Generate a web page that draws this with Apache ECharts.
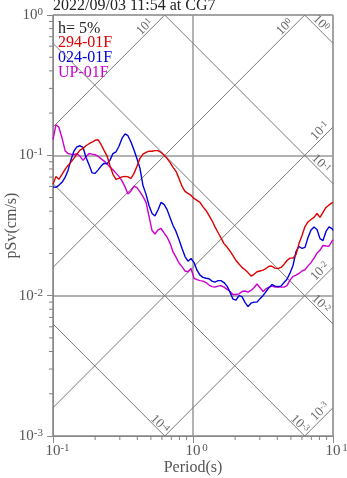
<!DOCTYPE html>
<html><head><meta charset="utf-8">
<script src="https://cdn.jsdelivr.net/npm/echarts@6/dist/echarts.min.js"></script>
<style>html,body{margin:0;padding:0;background:#fff}#c{width:347px;height:478px}</style>
</head><body><div id="c"></div>
<script>
const titleText = '2022/09/03 11:54 at CG7';
const dampingText = 'h= 5%';
const seriesNames = ['294-01F', '024-01F', 'UP-01F'];
const seriesColors = ['#dd0000', '#0000dd', '#cc00cc'];
const xName = 'Period(s)';
const yName = 'pSv(cm/s)';

const periods = [0.100,0.105,0.110,0.116,0.122,0.128,0.134,0.141,0.148,0.156,
0.164,0.172,0.181,0.190,0.200,0.210,0.220,0.231,0.243,0.255,
0.268,0.282,0.296,0.311,0.327,0.343,0.361,0.379,0.398,0.418,
0.439,0.462,0.485,0.510,0.535,0.562,0.591,0.621,0.652,0.685,
0.720,0.756,0.794,0.835,0.877,0.921,0.968,1.017,1.068,1.122,
1.179,1.239,1.301,1.367,1.436,1.509,1.585,1.665,1.750,1.838,
1.931,2.029,2.131,2.239,2.352,2.471,2.596,2.727,2.865,3.010,
3.162,3.322,3.490,3.667,3.853,4.048,4.252,4.467,4.693,4.931,
5.180,5.442,5.717,6.007,6.310,6.629,6.965,7.317,7.687,8.076,
8.483,8.913,9.363,9.837,10.0];

const sv294 = [0.0621,0.0708,0.0674,0.0732,0.0794,0.0848,0.0891,0.0952,0.102,0.109,
0.112,0.117,0.121,0.124,0.128,0.129,0.120,0.109,0.0992,0.0848,
0.0732,0.0674,0.0685,0.0702,0.0708,0.0702,0.0685,0.0744,0.0835,0.0952,
0.102,0.105,0.107,0.107,0.108,0.108,0.105,0.100,0.0952,0.0891,
0.0821,0.0769,0.0685,0.0601,0.0553,0.0535,0.0518,0.0493,0.0477,0.0462,
0.0429,0.0405,0.0373,0.0343,0.0309,0.0282,0.0258,0.0235,0.0222,0.0208,
0.0193,0.0178,0.0168,0.0159,0.0153,0.0146,0.0138,0.0142,0.0148,0.0150,
0.0152,0.0156,0.0162,0.0162,0.0157,0.0156,0.0159,0.0167,0.0178,0.0185,
0.0185,0.0196,0.0235,0.0268,0.0311,0.0335,0.0349,0.0361,0.0385,0.0361,
0.0392,0.0425,0.0443,0.0458,0.0462];

const sv024 = [0.0596,0.0591,0.0611,0.0642,0.0696,0.0781,0.0921,0.107,0.115,0.117,
0.114,0.0968,0.0855,0.0750,0.0744,0.0788,0.0835,0.0877,0.0870,0.0921,
0.103,0.106,0.116,0.132,0.142,0.138,0.124,0.109,0.0944,0.0808,
0.0611,0.0527,0.0439,0.0385,0.0370,0.0408,0.0462,0.0447,0.0412,0.0361,
0.0316,0.0287,0.0251,0.0217,0.0190,0.0176,0.0184,0.0172,0.0152,0.0140,
0.0135,0.0133,0.0132,0.0127,0.0125,0.0128,0.0128,0.0124,0.0117,0.0106,
0.00944,0.00929,0.0100,0.00984,0.00896,0.00835,0.00884,0.00899,0.00899,0.00952,
0.0100,0.0107,0.0114,0.0120,0.0117,0.0116,0.0117,0.0124,0.0131,0.0145,
0.0164,0.0206,0.0224,0.0217,0.0221,0.0260,0.0294,0.0309,0.0296,0.0255,
0.0247,0.0287,0.0309,0.0301,0.0291];

const svUP = [0.130,0.165,0.159,0.133,0.108,0.103,0.102,0.101,0.103,0.0984,
0.0921,0.0976,0.103,0.102,0.101,0.0984,0.0947,0.0913,0.0870,0.0825,
0.0788,0.0747,0.0708,0.0658,0.0596,0.0531,0.0558,0.0604,0.0588,0.0549,
0.0510,0.0462,0.0367,0.0291,0.0275,0.0294,0.0301,0.0280,0.0262,0.0237,
0.0205,0.0188,0.0171,0.0161,0.0150,0.0148,0.0156,0.0133,0.0130,0.0128,
0.0127,0.0124,0.0119,0.0116,0.0115,0.0117,0.0118,0.0115,0.0111,0.0107,
0.0102,0.0102,0.0103,0.0107,0.0108,0.0106,0.0109,0.0114,0.0121,0.0114,
0.0107,0.0112,0.0115,0.0117,0.0115,0.0115,0.0115,0.0115,0.0118,0.0129,
0.0137,0.0140,0.0144,0.0150,0.0153,0.0163,0.0172,0.0185,0.0201,0.0211,
0.0228,0.0226,0.0225,0.0245,0.0251];

const xRange = [0.1, 10];
const yRange = [0.001, 1];
const xDecades = [-1, 0];        // minor ticks per decade on period axis
const yDecades = [-3, -2, -1];   // minor ticks per decade on pSv axis
const minorMantissas = [2, 3, 4, 5, 6, 7, 8, 9];
const dispExps = [-4, -3, -2, -1, 0];   // constant displacement lines (cm)
const accExps = [-3, -2, -1, 0, 1];     // constant acceleration lines

const SERIF = '"Liberation Serif","DejaVu Serif",serif';
const TWO_PI = 2 * Math.PI;

// diagonal line segments in data space: [T1, SV1, T2, SV2, isAcc, exp, exitRight]
const diagDefs = [];
dispExps.forEach(e => {
  const c = TWO_PI * Math.pow(10, e);
  const t1 = Math.max(xRange[0], c / yRange[1]);
  const t2 = Math.min(xRange[1], c / yRange[0]);
  diagDefs.push([t1, c / t1, t2, c / t2, 0, e, t2 >= xRange[1] - 1e-9 ? 1 : 0]);
});
accExps.forEach(e => {
  const k = Math.pow(10, e) / TWO_PI;
  const t1 = Math.max(xRange[0], yRange[0] / k);
  const t2 = Math.min(xRange[1], yRange[1] / k);
  diagDefs.push([t1, k * t1, t2, k * t2, 1, e, t2 >= xRange[1] - 1e-9 ? 1 : 0]);
});

const minorTickDefs = [];
xDecades.forEach(d => minorMantissas.forEach(m => minorTickDefs.push([m * Math.pow(10, d), yRange[0], 0])));
yDecades.forEach(d => minorMantissas.forEach(m => minorTickDefs.push([xRange[0], m * Math.pow(10, d), 1])));

const diagRich = {
  b: { fontFamily: SERIF, fontSize: 13, lineHeight: 13, fill: '#666', color: '#666' },
  s: { fontFamily: SERIF, fontSize: 9, lineHeight: 9, verticalAlign: 'top', fill: '#666', color: '#666' }
};

function renderDiag(params, api) {
  const p1 = api.coord([api.value(0), api.value(1)]);
  const p2 = api.coord([api.value(2), api.value(3)]);
  const isAcc = api.value(4) === 1;
  const exitRight = api.value(6) === 1;
  const e = api.value(5);
  let off;
  if (isAcc) off = exitRight ? [-13, 4] : [-20, 12];
  else off = exitRight ? [-12, -20] : [-5, -12];
  return {
    type: 'group',
    children: [
      { type: 'line', shape: { x1: p1[0], y1: p1[1], x2: p2[0], y2: p2[1] },
        style: { stroke: '#7a7a7a', lineWidth: 1 } },
      { type: 'text', x: p2[0] + off[0], y: p2[1] + off[1],
        rotation: isAcc ? Math.PI / 4 : -Math.PI / 4,
        style: { text: '{b|10}{s|' + e + '}', rich: diagRich, align: 'center', verticalAlign: 'middle', fill: '#666' } }
    ]
  };
}

function renderMinorTick(params, api) {
  const p = api.coord([api.value(0), api.value(1)]);
  const isY = api.value(2) === 1;
  const L = 4;
  return { type: 'line',
    shape: isY ? { x1: p[0] - L, y1: p[1], x2: p[0], y2: p[1] } : { x1: p[0], y1: p[1], x2: p[0], y2: p[1] + L },
    style: { stroke: '#808080', lineWidth: 1 } };
}

const labelRich = {
  p: { width: 9 },
  b: { fontFamily: SERIF, fontSize: 15, lineHeight: 17, color: '#555' },
  s: { fontFamily: SERIF, fontSize: 11, lineHeight: 11, verticalAlign: 'top', color: '#555', width: 9, align: 'left' }
};
const yLabelRich = {
  b: { fontFamily: SERIF, fontSize: 15, lineHeight: 17, color: '#555' },
  s: { fontFamily: SERIF, fontSize: 11, lineHeight: 11, verticalAlign: 'top', color: '#555' }
};

const chart = echarts.init(document.getElementById('c'));
const curves = [sv294, sv024, svUP];

chart.setOption({
  animation: false,
  backgroundColor: '#fff',
  grid: { left: 53, top: 15, width: 280, height: 421, show: true, borderColor: '#888', borderWidth: 1,
          containLabel: false, outerBoundsMode: 'none' },
  xAxis: {
    type: 'log', logBase: 10, min: xRange[0], max: xRange[1],
    name: xName, nameLocation: 'middle', nameGap: 24, nameMoveOverlap: false,
    nameTextStyle: { fontFamily: SERIF, fontSize: 16, color: '#555' },
    axisLine: { show: true, lineStyle: { color: '#888' } },
    axisTick: { show: true, length: 7, lineStyle: { color: '#888' } },
    axisLabel: { margin: 7, formatter: v => '{p|}{b|10}{s|' + Math.round(Math.log10(v)) + '}', rich: labelRich },
    splitLine: { show: true, lineStyle: { color: '#999', width: 1.5 } },
    minorTick: { show: false }
  },
  yAxis: {
    type: 'log', logBase: 10, min: yRange[0], max: yRange[1],
    name: yName, nameLocation: 'middle', nameGap: 33, nameMoveOverlap: false,
    nameTextStyle: { fontFamily: SERIF, fontSize: 16, color: '#555' },
    axisLine: { show: true, lineStyle: { color: '#888' } },
    axisTick: { show: true, length: 6, lineStyle: { color: '#888' } },
    axisLabel: { margin: 10, formatter: v => '{b|10}{s|' + Math.round(Math.log10(v)) + '}', rich: yLabelRich },
    splitLine: { show: true, lineStyle: { color: '#999', width: 1.5 } }
  },
  graphic: [
    { type: 'text', left: 53, top: -2, style: { text: titleText, font: '16px ' + SERIF, fill: '#222' } },
    { type: 'text', left: 58, top: 21, style: { text: dampingText, font: '16px ' + SERIF, fill: '#222' } },
    { type: 'text', left: 58, top: 35, style: { text: seriesNames[0], font: '16px ' + SERIF, fill: seriesColors[0] } },
    { type: 'text', left: 58, top: 50, style: { text: seriesNames[1], font: '16px ' + SERIF, fill: seriesColors[1] } },
    { type: 'text', left: 58, top: 65, style: { text: seriesNames[2], font: '16px ' + SERIF, fill: seriesColors[2] } }
  ],
  series: [
    { type: 'custom', name: 'diag', data: diagDefs, renderItem: renderDiag, silent: true, z: 1 },
    { type: 'custom', name: 'ticks', data: minorTickDefs, renderItem: renderMinorTick, silent: true, clip: false, z: 1 }
  ].concat(curves.map((arr, i) => ({
    type: 'line', name: seriesNames[i], z: 3 + (2 - i),
    data: periods.map((t, j) => [t, arr[j]]),
    showSymbol: false, symbol: 'none', smooth: false,
    lineStyle: { color: seriesColors[i], width: 1.4 },
    itemStyle: { color: seriesColors[i] }
  })))
});
</script></body></html>
